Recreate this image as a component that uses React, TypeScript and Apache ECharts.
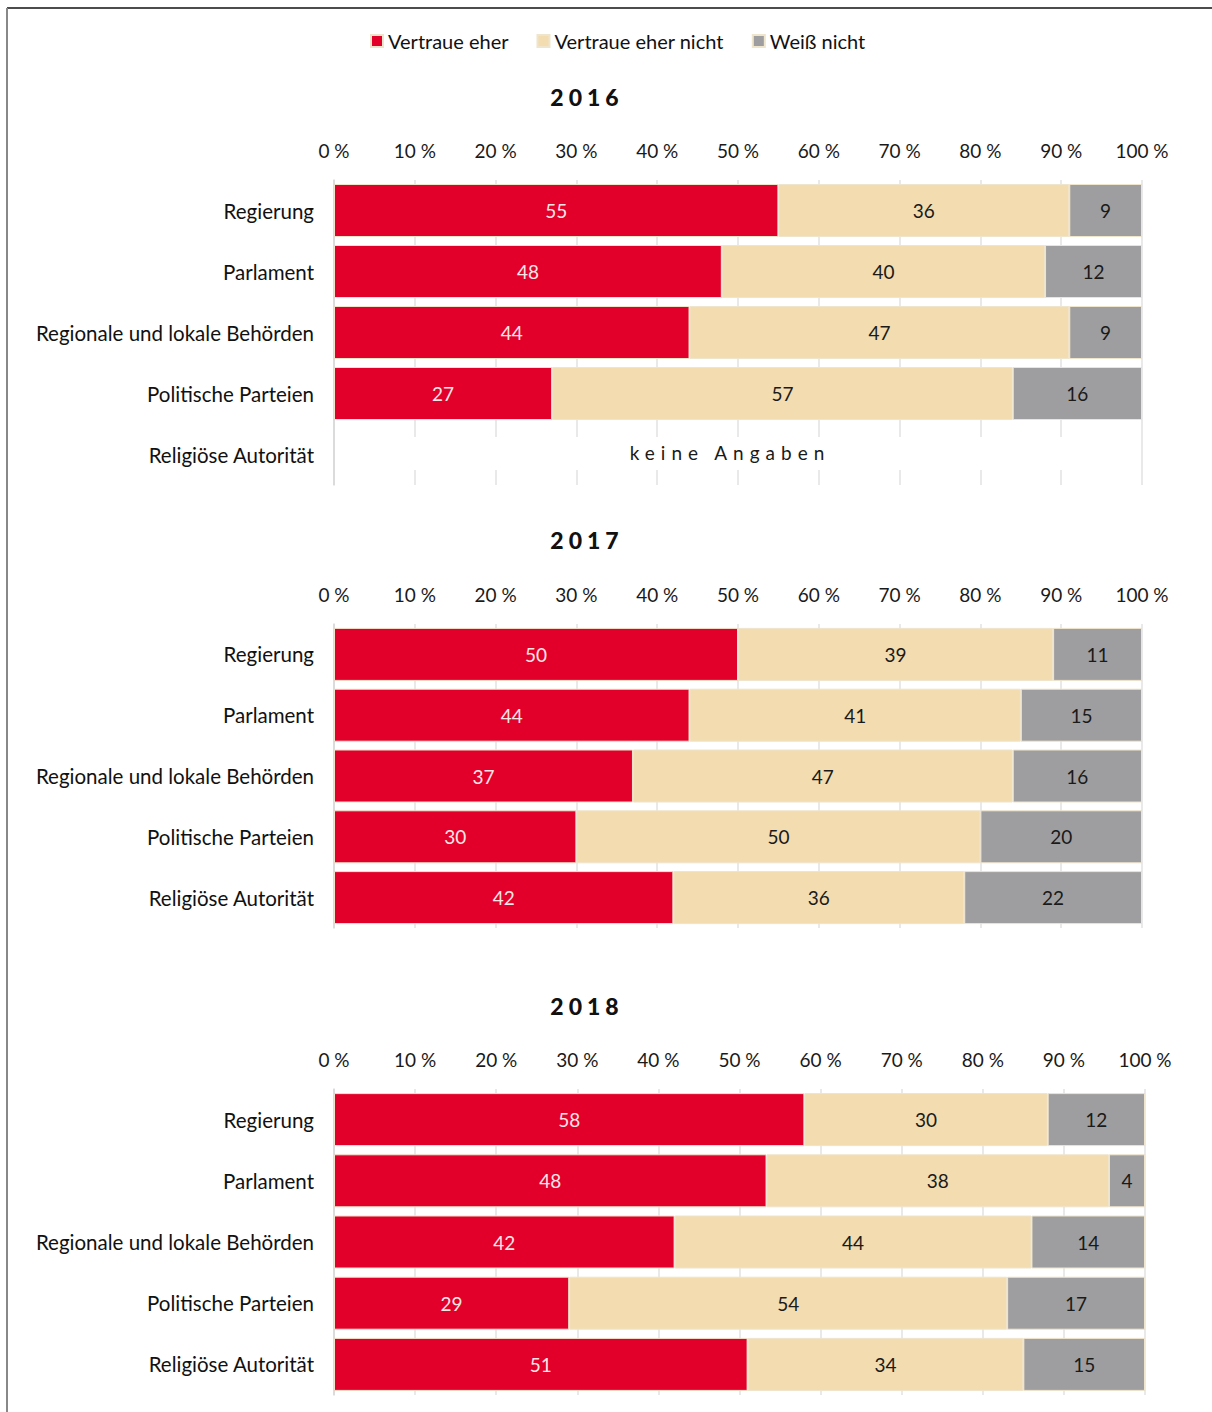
import React, { useEffect, useRef } from "react";
import * as echarts from "echarts";

const categories = [
  "Regierung",
  "Parlament",
  "Regionale und lokale Behörden",
  "Politische Parteien",
  "Religiöse Autorität",
];
const seriesNames = ["Vertraue eher", "Vertraue eher nicht", "Weiß nicht"];
const years = ["2016", "2017", "2018"];

// values per year: [Vertraue eher, Vertraue eher nicht, Weiß nicht]
const trust2016 = [55, 48, 44, 27, null];
const distrust2016 = [36, 40, 47, 57, null];
const unknown2016 = [9, 12, 9, 16, null];

const trust2017 = [50, 44, 37, 30, 42];
const distrust2017 = [39, 41, 47, 50, 36];
const unknown2017 = [11, 15, 16, 20, 22];

const trust2018 = [58, 48, 42, 29, 51];
const distrust2018 = [30, 38, 44, 54, 34];
const unknown2018 = [12, 4, 14, 17, 15];

const tickLabels = ["0 %", "10 %", "20 %", "30 %", "40 %", "50 %", "60 %", "70 %", "80 %", "90 %", "100 %"];

const noDataText = "keine Angaben";

const COLORS = ["#E2002A", "#F2DCB0", "#9E9EA0"];
const FONT = "Lato";

const yearData = [
  [trust2016, distrust2016, unknown2016],
  [trust2017, distrust2017, unknown2017],
  [trust2018, distrust2018, unknown2018],
];

const grids = [
  { left: 334, top: 180, width: 808, height: 305 },
  { left: 334, top: 624, width: 808, height: 304 },
  { left: 334, top: 1089, width: 811, height: 306 },
];

const titlePos = [98, 541, 1007];

export default function App() {
  const ref = useRef<HTMLDivElement>(null);

  useEffect(() => {
    if (!ref.current) return;
    const chart = echarts.init(ref.current, undefined, { renderer: "svg" });

    const xAxis: any[] = [];
    const yAxis: any[] = [];
    const series: any[] = [];

    grids.forEach((g, gi) => {
      xAxis.push({
        gridIndex: gi,
        type: "value",
        position: "top",
        min: 0,
        max: 100,
        interval: 10,
        axisLine: { show: false },
        axisTick: { show: false },
        axisLabel: {
          formatter: (v: number) => tickLabels[Math.round(v / 10)],
          fontFamily: FONT,
          fontSize: 19,
          color: "#1a1a1a",
          margin: 20,
        },
        splitLine: { show: true, lineStyle: { color: "#e2e2e2", width: 1.5 } },
      });
      yAxis.push({
        gridIndex: gi,
        type: "category",
        inverse: true,
        data: categories,
        axisLine: { show: true, lineStyle: { color: "#d6d6d6", width: 1.5 } },
        axisTick: { show: false },
        axisLabel: {
          fontFamily: FONT,
          fontSize: 20.5,
          color: "#111",
          margin: 20,
          padding: [0, 0, 6, 0],
        },
      });
      const vals = yearData[gi];
      const totals = categories.map((_, i) =>
        vals.reduce((s, arr) => s + (arr[i] == null ? 0 : (arr[i] as number)), 0)
      );
      vals.forEach((arr, si) => {
        series.push({
          name: seriesNames[si],
          type: "bar",
          stack: "s" + gi,
          xAxisIndex: gi,
          yAxisIndex: gi,
          barWidth: 53,
          itemStyle: {
            color: COLORS[si],
            borderColor: "#efe4cc",
            borderWidth: 1,
          },
          label: {
            show: true,
            position: "inside",
            fontFamily: FONT,
            fontSize: 19,
            color: si === 0 ? "#fbe6e6" : "#1a1a1a",
            formatter: (p: any) => (p.data && p.data.raw != null ? String(p.data.raw) : ""),
          },
          data: arr.map((v, i) =>
            v == null ? null : { value: ((v as number) / totals[i]) * 100, raw: v }
          ),
        });
      });
    });

    chart.setOption({
      animation: false,
      backgroundColor: "#ffffff",
      legend: {
        data: seriesNames,
        left: 365,
        top: 26,
        itemWidth: 12,
        itemHeight: 12,
        itemGap: 28,
        icon: "rect",
        selectedMode: false,
        textStyle: { fontFamily: FONT, fontSize: 20, color: "#111" },
      },
      grid: grids.map((g) => ({ ...g, containLabel: false })),
      xAxis,
      yAxis,
      series,
      graphic: [
        { type: "line", shape: { x1: 7, y1: 8, x2: 1212, y2: 8 }, style: { stroke: "#111", lineWidth: 1.5 } },
        { type: "line", shape: { x1: 7, y1: 8, x2: 7, y2: 1412 }, style: { stroke: "#888", lineWidth: 2 } },
      ],
    });

    return () => chart.dispose();
  }, []);

  return (
    <div style={{ position: "absolute", left: 0, top: 0, width: 1212, height: 1412 }}>
      <div ref={ref} style={{ position: "absolute", left: 0, top: 0, width: 1212, height: 1412 }} />
      {years.map((y, i) => (
        <div
          key={y}
          style={{
            position: "absolute",
            left: 487,
            width: 200,
            top: titlePos[i] - 15,
            textAlign: "center",
            fontFamily: FONT,
            fontWeight: 900,
            fontSize: 23,
            lineHeight: "28px",
            letterSpacing: 5,
            color: "#111",
            pointerEvents: "none",
          }}
        >
          {y}
        </div>
      ))}
      <div
        style={{
          position: "absolute",
          left: 336,
          width: 804,
          top: 437,
          height: 33,
          background: "#ffffff",
          pointerEvents: "none",
        }}
      >
        <div
          style={{
            position: "absolute",
            left: 194,
            width: 400,
            top: 4,
            textAlign: "center",
            fontFamily: FONT,
            fontSize: 19,
            lineHeight: "24px",
            letterSpacing: 6,
            color: "#1a1a1a",
          }}
        >
          {noDataText}
        </div>
      </div>
    </div>
  );
}
